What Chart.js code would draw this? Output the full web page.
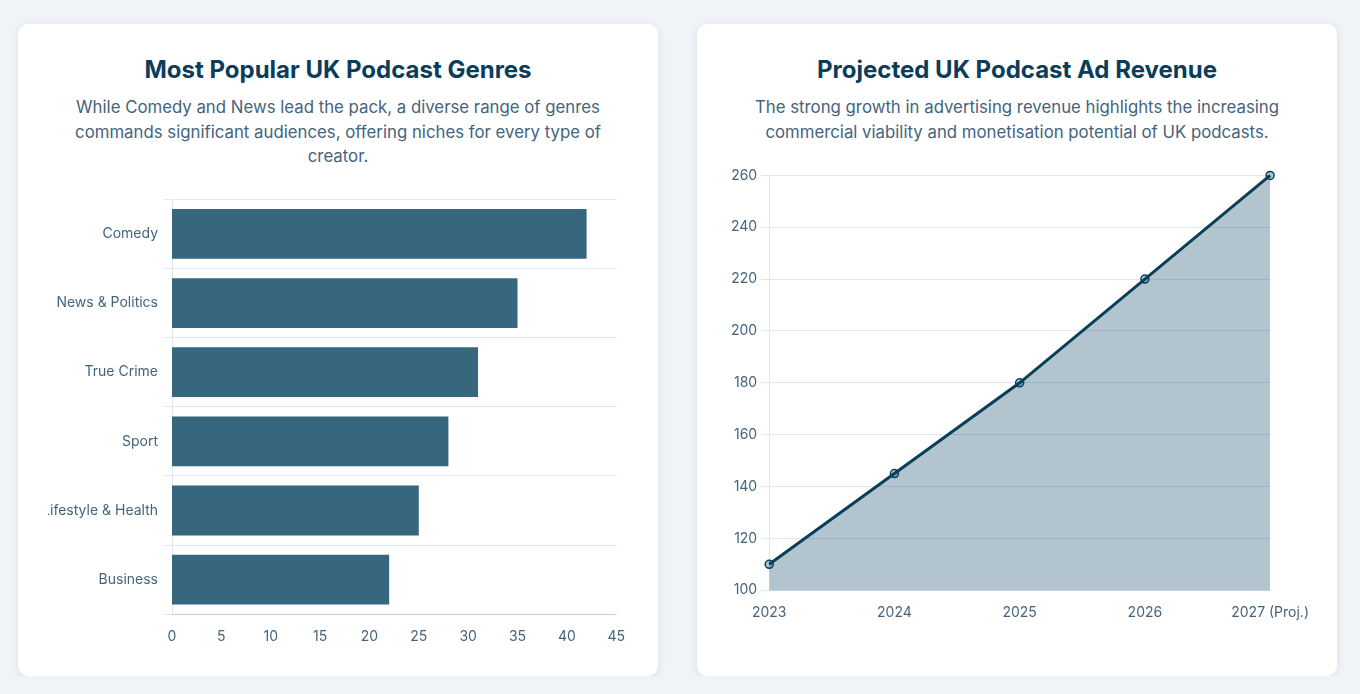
<!DOCTYPE html>
<html>
<head>
<meta charset="utf-8">
<script src="https://cdn.jsdelivr.net/npm/chart.js@4.4.1/dist/chart.umd.min.js"></script>
<style>
    body { margin: 0; background: #f0f4f8; font-family: 'Inter', 'Noto Sans', sans-serif; }
    .wrap { display: flex; gap: 39px; padding: 24px 0 0 18px; }
    .card {
        width: 640px; height: 652px; box-sizing: border-box; padding: 30px;
        background: #fff; border-radius: 10px;
        box-shadow: 0 2px 8px rgba(15, 40, 70, 0.10);
    }
    .card h2 { margin: 0; font-size: 24px; line-height: 32px; font-weight: 700; color: #0a3d5a; text-align: center; }
    .card p { margin: 9px 18px 0; font-size: 16.8px; line-height: 24.5px; color: #44647c; text-align: center; }
    .chart-box { position: relative; height: 466px; margin-top: 16px; margin-right: -3px; }
    .chart-box.right { height: 464px; margin-top: 19px; margin-right: -8px; }
</style>
</head>
<body>
<div class="wrap">
    <div class="card">
        <h2>Most Popular UK Podcast Genres</h2>
        <p>While Comedy and News lead the pack, a diverse range of genres commands significant audiences, offering niches for every type of creator.</p>
        <div class="chart-box"><canvas id="genreChart"></canvas></div>
    </div>
    <div class="card">
        <h2>Projected UK Podcast Ad Revenue</h2>
        <p>The strong growth in advertising revenue highlights the increasing commercial viability and monetisation potential of UK podcasts.</p>
        <div class="chart-box right"><canvas id="revenueChart"></canvas></div>
    </div>
</div>
<script>
// datos
const genreLabels = ['Comedy', 'News & Politics', 'True Crime', 'Sport', 'Lifestyle & Health', 'Business'];
const genreShares = [42, 35, 31, 28, 25, 22];

const revenueYears = ['2023', '2024', '2025', '2026', '2027 (Proj.)'];
const revenueValues = [110, 145, 180, 220, 260];

const gridBlue = '#dfe6f7';
const tickColor = '#44647c';

Chart.defaults.font.family = "'Inter', 'Noto Sans', sans-serif";
Chart.defaults.font.size = 14;
Chart.defaults.color = tickColor;

// barras horizontales
new Chart(document.getElementById('genreChart'), {
    type: 'bar',
    data: {
        labels: genreLabels,
        datasets: [{
            data: genreShares,
            backgroundColor: '#37677f'
        }]
    },
    options: {
        indexAxis: 'y',
        responsive: true,
        maintainAspectRatio: false,
        animation: false,
        plugins: { legend: { display: false } },
        scales: {
            x: {
                beginAtZero: true,
                grid: { display: false },
                ticks: { stepSize: 5, padding: 6 }
            },
            y: {
                grid: { color: gridBlue },
                ticks: { padding: 6 },
                // ancho fijo: la etiqueta larga queda cortada como en el original
                afterFit: (scale) => { scale.width = 124; }
            }
        }
    }
});

// linea con area
new Chart(document.getElementById('revenueChart'), {
    type: 'line',
    data: {
        labels: revenueYears,
        datasets: [{
            data: revenueValues,
            borderColor: '#0a3f5c',
            borderWidth: 3,
            backgroundColor: 'rgba(0, 63, 92, 0.3)',
            pointBorderColor: '#0a3f5c',
            pointRadius: 4,
            pointBorderWidth: 1.5,
            fill: true,
            tension: 0
        }]
    },
    options: {
        responsive: true,
        maintainAspectRatio: false,
        animation: false,
        plugins: { legend: { display: false } },
        scales: {
            x: {
                grid: { display: false },
                ticks: { padding: 6 }
            },
            y: {
                grid: { color: gridBlue },
                ticks: { stepSize: 20, padding: 4 }
            }
        }
    }
});
</script>
</body>
</html>
